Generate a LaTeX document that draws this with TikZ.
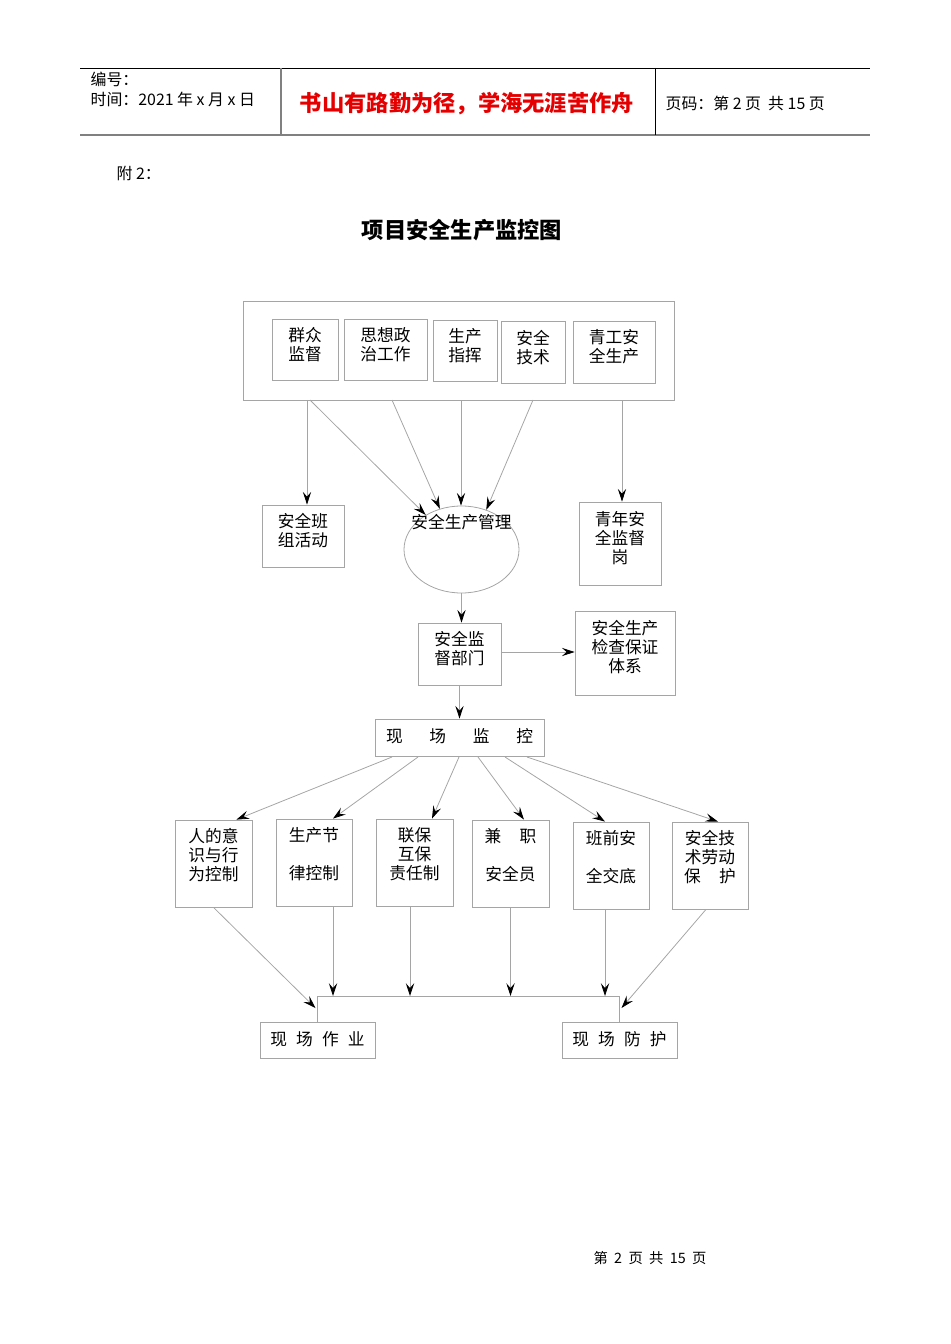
\documentclass[tikz,border=0pt]{standalone}
\usepackage{fontspec}
\setmainfont{Noto Sans CJK SC}
\usepackage{tikz}
\usetikzlibrary{arrows.meta,shapes.geometric,calc}
\definecolor{linegray}{RGB}{165,165,165}
\definecolor{hdred}{RGB}{228,0,0}
\newlength{\pxu}\setlength{\pxu}{0.0221cm}
\newcommand{\boxfont}{\fontsize{10.5}{11.9}\selectfont}
\newcommand{\hdfont}{\fontsize{10}{12}\selectfont}

\begin{document}
\begin{tikzpicture}[x=0.0221cm, y=-0.0221cm,
	ln/.style={draw=linegray, line width=0.5pt},
	arr/.style={ln, -{Stealth[length=8pt, width=5.2pt, inset=3pt, color=black]}},
	box/.style={draw=linegray, line width=0.5pt, align=center, inner sep=0pt, font=\boxfont, text depth=8pt},
	]
	%\draw[help lines] (0,0) grid[step=50] (950,1344);
	\useasboundingbox (0,0) rectangle (950,1344);
	% header
	\draw[line width=0.6pt] (80,68) -- (870,68);
	\draw[draw=gray, line width=1.4pt] (80,135) -- (870,135);
	\draw[draw=gray, line width=0.8pt] (281,68) -- (281,135);
	\draw[line width=0.6pt] (655,68) -- (655,135);
	\node[anchor=west, font=\hdfont] (bh) at (85,79) {编号：};
	\node[anchor=west, font=\hdfont] (sj) at (85,99) {时间：2021 年 x 月 x 日};
	\node[font=\fontsize{14}{16}\selectfont\bfseries, text=hdred] (ml) at (467,104) {书山有路勤为径，学海无涯苦作舟};
	\node[anchor=west, font=\hdfont] (ym) at (660,103) {页码：第 2 页\ \ 共 15 页};

	\node[anchor=west, font=\fontsize{10}{12}\selectfont] (fu) at (111,173) {附 2：};
	\node[font=\fontsize{14}{16}\selectfont\bfseries] (tt) at (462,230) {项目安全生产监控图};

	% top group
	\node[box, minimum width=431\pxu, minimum height=99\pxu] (top) at (458.5,350.5) {};
	\node[box, text depth=7pt, minimum width=66\pxu, minimum height=61\pxu] (qz) at (305,349.5) {群众\\监督};
	\node[box, text depth=7pt, minimum width=83\pxu, minimum height=61\pxu] (sx) at (385.5,349.5) {思想政\\治工作};
	\node[box, text depth=7pt, minimum width=64\pxu, minimum height=61\pxu] (sc) at (465,350.5) {生产\\指挥};
	\node[box, text depth=6pt, minimum width=64\pxu, minimum height=62\pxu] (aj) at (533,352) {安全\\技术};
	\node[box, text depth=7pt, minimum width=82\pxu, minimum height=62\pxu] (qg) at (614,352) {青工安\\全生产};

	\node[box, minimum width=82\pxu, minimum height=62\pxu] (bz) at (303,536) {安全班\\组活动};
	\node[draw=linegray, line width=0.5pt, ellipse, inner sep=0pt, minimum width=115\pxu, minimum height=87\pxu] (gl) at (461.5,549.5) {};
	\node[font=\boxfont] (glt) at ([yshift=27\pxu]gl.center) {安全生产管理};
	\node[box, minimum width=82\pxu, minimum height=83\pxu] (qn) at (620,543.5) {青年安\\全监督\\岗};

	\coordinate (c1) at (307,400);
	\coordinate (c2) at (310,400);
	\coordinate (c3) at (392,400);
	\coordinate (c4) at (461,400);
	\coordinate (c5) at (533,400);
	\coordinate (c6) at (622,400);
	\draw[arr] (c1) -- (c1 |- bz.north);
	\draw[arr] (c2) -- (gl.136);
	\draw[arr] (c3) -- (gl.118);
	\draw[arr] (c4) -- (c4 |- gl.north);
	\draw[arr] (c5) -- (gl.58);
	\draw[arr] (c6) -- (c6 |- qn.north);

	% middle
	\node[box, minimum width=83\pxu, minimum height=62\pxu] (jd) at (459.5,654) {安全监\\督部门};
	\node[box, minimum width=100\pxu, minimum height=84\pxu] (jc) at (625,653) {安全生产\\检查保证\\体系};
	\node[box, text depth=2pt, minimum width=169\pxu, minimum height=37\pxu] (xj) at (459.5,737.5) {现\hspace{1.6em}场\hspace{1.6em}监\hspace{1.6em}控};
	\draw[arr] (gl.south) -- (gl.south |- jd.north);
	\draw[arr] ([yshift=2\pxu]jd.east) -- ([yshift=2\pxu]jd.east -| jc.west);
	\draw[arr] (jd.south) -- (jd.south |- xj.north);

	% six boxes
	\node[box, text depth=11pt, minimum width=77\pxu, minimum height=87\pxu] (r1) at (213.5,863.5) {人的意\\识与行\\为控制};
	\node[box, text depth=11pt, minimum width=76\pxu, minimum height=87\pxu] (r2) at (314,862.5) {生产节\\[11.9pt]律控制};
	\node[box, text depth=11pt, minimum width=77\pxu, minimum height=87\pxu] (r3) at (414.5,862.5) {联保\\互保\\责任制};
	\node[box, text depth=11pt, minimum width=77\pxu, minimum height=87\pxu] (r4) at (510.5,863.5) {兼\hspace{1.1em}职\\[11.9pt]安全员};
	\node[box, text depth=11pt, minimum width=76\pxu, minimum height=87\pxu] (r5) at (611,865.5) {班前安\\[11.9pt]全交底};
	\node[box, text depth=11pt, minimum width=76\pxu, minimum height=87\pxu] (r6) at (710,865.5) {安全技\\术劳动\\保\hspace{1.1em}护};

	\coordinate (d1) at (392,757);
	\coordinate (d2) at (418,757);
	\coordinate (d3) at (459,757);
	\coordinate (d4) at (478,757);
	\coordinate (d5) at (505,757);
	\coordinate (d6) at (527,757);
	\draw[arr] (d1) -- ([xshift=-16\pxu]r1.north east);
	\draw[arr] (d2) -- ([xshift=19\pxu]r2.north);
	\draw[arr] (d3) -- ([xshift=17.5\pxu]r3.north);
	\draw[arr] (d4) -- ([xshift=13.5\pxu]r4.north);
	\draw[arr] (d5) -- ([xshift=-6\pxu]r5.north);
	\draw[arr] (d6) -- ([xshift=8\pxu]r6.north);

	% bottom
	\node[box, text depth=2pt, minimum width=115\pxu, minimum height=36\pxu] (zy) at (317.5,1040) {现\hspace{0.55em}场\hspace{0.55em}作\hspace{0.55em}业};
	\node[box, text depth=2pt, minimum width=115\pxu, minimum height=36\pxu] (fh) at (619.5,1040) {现\hspace{0.55em}场\hspace{0.55em}防\hspace{0.55em}护};
	\coordinate (busl) at (317.5,996);
	\coordinate (busr) at (619.5,996);
	\draw[ln] (zy.north) -- (busl) -- (busr) -- (fh.north);
	\draw[arr] (r1.south) -- ([xshift=-2\pxu, yshift=-12\pxu]busl);
	\draw[arr] ([xshift=19\pxu]r2.south) -- ([xshift=19\pxu]r2.south |- busl);
	\draw[arr] ([xshift=-4.5\pxu]r3.south) -- ([xshift=-4.5\pxu]r3.south |- busl);
	\draw[arr] (r4.south) -- (r4.south |- busl);
	\draw[arr] ([xshift=-6\pxu]r5.south) -- ([xshift=-6\pxu]r5.south |- busl);
	\draw[arr] ([xshift=-4\pxu]r6.south) -- ([xshift=2\pxu, yshift=-12\pxu]busr);

	\node[font=\fontsize{9}{11}\selectfont] (ft) at (650,1258) {第\hspace{4pt}2\hspace{4pt}页\hspace{4pt}共\hspace{4pt}15\hspace{4pt}页};
\end{tikzpicture}
\end{document}
